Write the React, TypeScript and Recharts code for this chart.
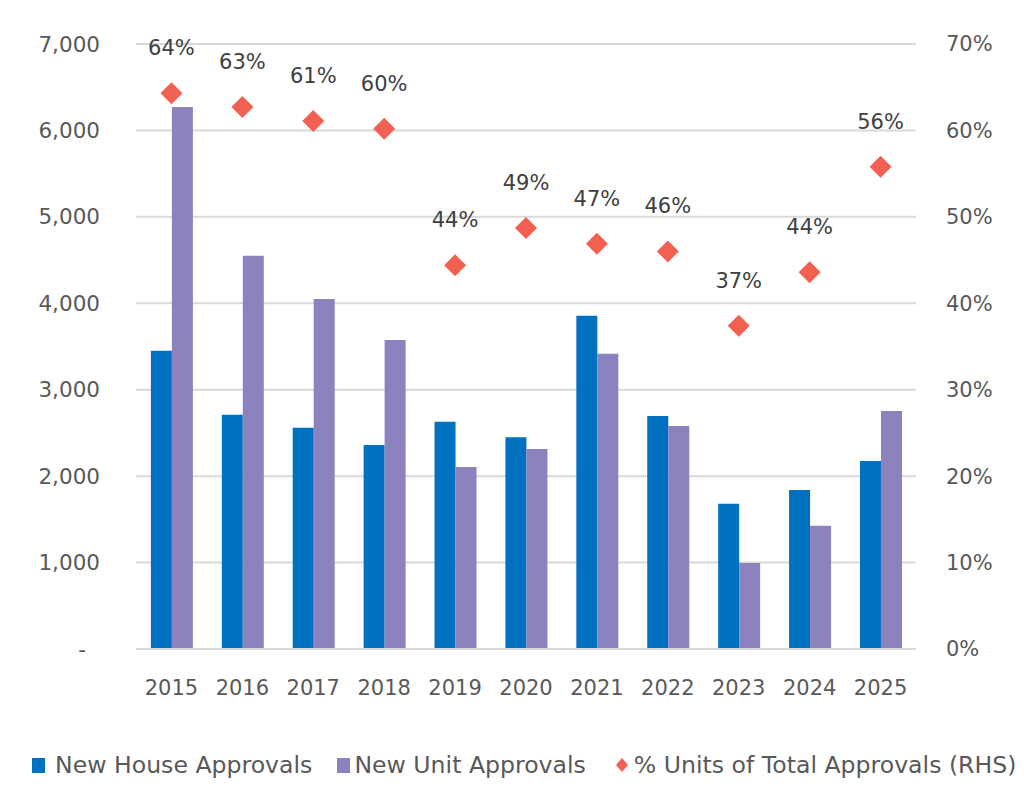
import React from "react";
import {
  ComposedChart,
  Bar,
  Line,
  XAxis,
  YAxis,
  CartesianGrid,
  Legend,
  LabelList,
} from "recharts";

const years = ["2015", "2016", "2017", "2018", "2019", "2020", "2021", "2022", "2023", "2024", "2025"];
const houseApprovals = [3450, 2710, 2560, 2360, 2630, 2450, 3855, 2695, 1680, 1840, 2175];
const unitApprovals = [6270, 4550, 4050, 3575, 2105, 2315, 3415, 2580, 995, 1425, 2755];
const unitShare = [0.643, 0.627, 0.611, 0.602, 0.444, 0.487, 0.469, 0.46, 0.374, 0.436, 0.558];
const leftTicks = [0, 1000, 2000, 3000, 4000, 5000, 6000, 7000];
const rightTicks = [0, 0.1, 0.2, 0.3, 0.4, 0.5, 0.6, 0.7];

const data = years.map((y, i) => ({
  year: y,
  house: houseApprovals[i],
  unit: unitApprovals[i],
  share: unitShare[i],
}));

const FONT = "'DejaVu Sans', sans-serif";
const AXIS_COLOR = "#595959";
const BLUE = "#0070C0";
const PURPLE = "#8B82BE";
const RED = "#F26052";

const LeftTick = (props: any) => {
  const { x, y, payload } = props;
  const v = payload.value;
  const label = v === 0 ? "-" : v.toLocaleString("en-US");
  return (
    <text
      x={v === 0 ? x - 14 : x}
      y={y}
      textAnchor="end"
      dominantBaseline="central"
      fill={AXIS_COLOR}
      fontSize={21.5}
      fontFamily={FONT}
    >
      {label}
    </text>
  );
};

const Diamond = (props: any) => {
  const { cx, cy } = props;
  if (cx == null || cy == null) return null;
  const r = 11;
  return (
    <path
      d={`M${cx},${cy - r} L${cx + r},${cy} L${cx},${cy + r} L${cx - r},${cy} Z`}
      fill={RED}
    />
  );
};

const ShareLabel = (props: any) => {
  const { x, y, value } = props;
  return (
    <text
      x={x}
      y={y - 45}
      textAnchor="middle"
      dominantBaseline="central"
      fill="#404040"
      fontSize={21}
      fontFamily={FONT}
    >
      {Math.round(value * 100) + "%"}
    </text>
  );
};

const LegendContent = () => {
  const item: React.CSSProperties = {
    display: "inline-flex",
    alignItems: "center",
  };
  const txt: React.CSSProperties = {
    color: AXIS_COLOR,
    fontSize: 23.6,
    fontFamily: FONT,
    whiteSpace: "nowrap",
  };
  return (
    <div
      style={{
        height: 30,
        display: "flex",
        alignItems: "center",
        justifyContent: "flex-start",
        paddingLeft: 24,
        width: "100%",
        boxSizing: "border-box",
      }}
    >
      <span style={{ ...item, marginRight: 25 }}>
        <span style={{ width: 13, height: 15, background: BLUE, display: "inline-block", marginRight: 10 }} />
        <span style={txt}>New House Approvals</span>
      </span>
      <span style={{ ...item, marginRight: 22 }}>
        <span style={{ width: 13, height: 15, background: PURPLE, display: "inline-block", marginRight: 4 }} />
        <span style={txt}>New Unit Approvals</span>
      </span>
      <span style={item}>
        <svg width={20} height={20} style={{ marginRight: 2, marginLeft: 4 }}>
          <path d="M10,3 L16,10 L10,17 L4,10 Z" fill={RED} />
        </svg>
        <span style={txt}>% Units of Total Approvals (RHS)</span>
      </span>
    </div>
  );
};

export default function App() {
  return (
    <div style={{ width: 1008, height: 790 }}>
      <ComposedChart
        width={1008}
        height={790}
        data={data}
        margin={{ top: 36, right: 0, left: 0, bottom: 18 }}
        barCategoryGap="21%"
        barGap={0}
      >
        <CartesianGrid vertical={false} stroke="#D9D9D9" strokeWidth={2} yAxisId="left" />
        <XAxis
          dataKey="year"
          height={101}
          tickLine={false}
          axisLine={{ stroke: "#D9D9D9", strokeWidth: 2 }}
          tickSize={0}
          tickMargin={31}
          tick={{ fill: AXIS_COLOR, fontSize: 21, fontFamily: FONT }}
        />
        <YAxis
          yAxisId="left"
          orientation="left"
          width={128}
          domain={[0, 7000]}
          ticks={leftTicks}
          axisLine={false}
          tickLine={false}
          tickSize={0}
          tickMargin={36}
          tick={<LeftTick />}
        />
        <YAxis
          yAxisId="right"
          orientation="right"
          width={100}
          domain={[0, 0.7]}
          ticks={rightTicks}
          axisLine={false}
          tickLine={false}
          tickSize={0}
          tickMargin={30}
          tickFormatter={(v: number) => Math.round(v * 100) + "%"}
          tick={{ fill: AXIS_COLOR, fontSize: 21, fontFamily: FONT, textAnchor: "start" }}
        />
        <Bar yAxisId="left" dataKey="house" name="New House Approvals" fill={BLUE} isAnimationActive={false} />
        <Bar yAxisId="left" dataKey="unit" name="New Unit Approvals" fill={PURPLE} isAnimationActive={false} />
        <Line
          yAxisId="right"
          dataKey="share"
          name="% Units of Total Approvals (RHS)"
          stroke="none"
          strokeWidth={0}
          dot={<Diamond />}
          activeDot={false}
          isAnimationActive={false}
        >
          <LabelList dataKey="share" content={<ShareLabel />} />
        </Line>
        <Legend verticalAlign="bottom" content={<LegendContent />} />
      </ComposedChart>
    </div>
  );
}
